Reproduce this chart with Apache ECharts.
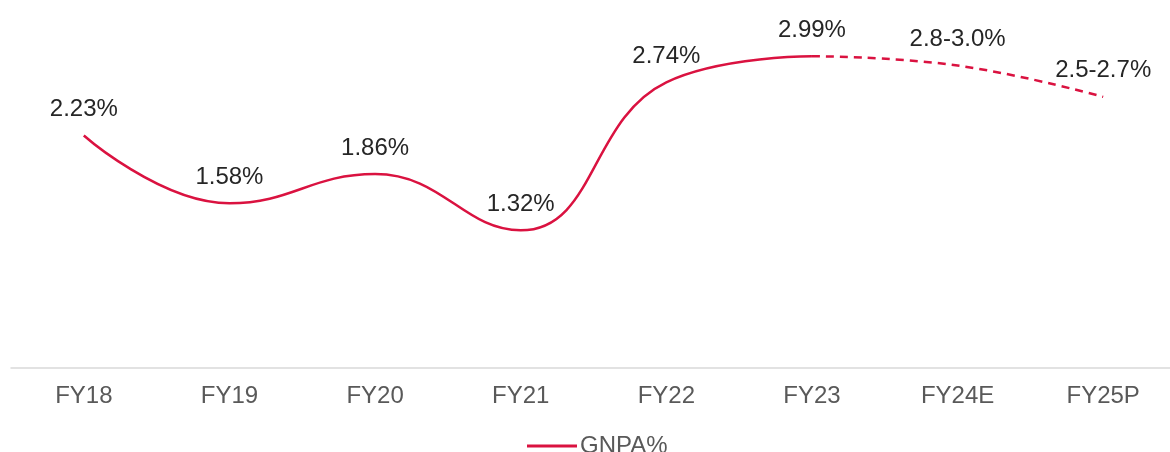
<!DOCTYPE html>
<html>
<head>
<meta charset="utf-8">
<title>GNPA%</title>
<script src="https://cdn.jsdelivr.net/npm/echarts@6/dist/echarts.min.js"></script>
<style>
  html, body { margin: 0; padding: 0; background: #ffffff; overflow: hidden; }
  /* the plot runs slightly past the right edge of the window */
  #chart { width: 1178px; height: 452px; }
</style>
</head>
<body>
<div id="chart"></div>
<script>
// Fiscal years on the category axis
const categories = ['FY18', 'FY19', 'FY20', 'FY21', 'FY22', 'FY23', 'FY24E', 'FY25P'];
// Reported GNPA% (FY18 to FY23)
const gnpaActual = [2.23, 1.58, 1.86, 1.32, 2.74, 2.99];
// Guidance ranges for FY24E and FY25P, plotted at their midpoints
const outlookLabels = ['2.8-3.0%', '2.5-2.7%'];
const gnpaOutlook = [2.9, 2.6];

const lineColor = '#DA1240';
const fontFamily = 'Arial, "Liberation Sans", sans-serif';

// Solid line: actual values, blank for the projected years
const solidData = categories.map((c, i) => i < gnpaActual.length ? gnpaActual[i] : null);
// Dashed line: starts at the last actual value and runs through the projections
const lastIdx = gnpaActual.length - 1;
const dashedData = categories.map((c, i) => {
  if (i < lastIdx) return null;
  if (i === lastIdx) return gnpaActual[lastIdx];
  return gnpaOutlook[i - gnpaActual.length];
});

const chart = echarts.init(document.getElementById('chart'), null, { renderer: 'canvas' });

const labelStyle = {
  show: true,
  position: 'top',
  distance: 14,
  fontSize: 24,
  color: '#262626',
  fontFamily: fontFamily
};

chart.setOption({
  animation: false,
  backgroundColor: '#ffffff',
  grid: { left: 11, right: 2, top: 3, bottom: 84, containLabel: false },
  legend: {
    left: 527,
    top: 434,
    padding: 0,
    icon: 'rect',
    itemWidth: 50,
    itemHeight: 3,
    textStyle: { fontSize: 24, color: '#595959', fontFamily: fontFamily, padding: [0, 0, 0, -2] },
    data: [{ name: 'GNPA%', itemStyle: { color: lineColor } }]
  },
  xAxis: {
    type: 'category',
    data: categories,
    boundaryGap: true,
    axisLine: { show: true, lineStyle: { color: '#d9d9d9', width: 1.5 } },
    axisTick: { show: false },
    axisLabel: { fontSize: 24, color: '#595959', fontFamily: fontFamily, margin: 16 },
    splitLine: { show: false }
  },
  yAxis: {
    type: 'value',
    min: 0,
    max: 3.5,
    show: false,
    splitLine: { show: false }
  },
  series: [
    {
      name: 'GNPA%',
      type: 'line',
      data: solidData,
      smooth: 0.45,
      symbol: 'circle',
      symbolSize: 0,
      connectNulls: false,
      lineStyle: { color: lineColor, width: 2.5 },
      itemStyle: { color: lineColor },
      label: Object.assign({}, labelStyle, {
        formatter: p => p.value == null ? '' : p.value.toFixed(2) + '%'
      })
    },
    {
      name: 'GNPA%',
      type: 'line',
      data: dashedData,
      smooth: 0.45,
      symbol: 'circle',
      symbolSize: 0,
      lineStyle: { color: lineColor, width: 2.5, type: [8, 6] },
      itemStyle: { color: lineColor },
      label: Object.assign({}, labelStyle, {
        formatter: p => p.dataIndex >= gnpaActual.length ? outlookLabels[p.dataIndex - gnpaActual.length] : ''
      })
    }
  ]
});
</script>
</body>
</html>
